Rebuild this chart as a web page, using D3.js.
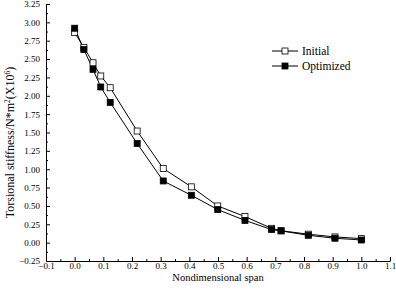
<!DOCTYPE html>
<html>
<head>
<meta charset="utf-8">
<script src="https://cdn.jsdelivr.net/npm/d3@7"></script>
<style>
  body { margin: 0; background: #fff; }
  text { font-family: "Liberation Serif", "DejaVu Serif", serif; fill: #000; }
</style>
</head>
<body>
<svg id="chart"></svg>
<script>
// span positions and stiffness values
const span = [0.0, 0.032, 0.064, 0.091, 0.124, 0.218, 0.309, 0.407, 0.499, 0.594, 0.687, 0.72, 0.815, 0.908, 1.0];
const initial = [2.86, 2.66, 2.45, 2.27, 2.11, 1.52, 1.01, 0.76, 0.50, 0.355, 0.195, 0.162, 0.115, 0.078, 0.055];
const optimized = [2.92, 2.63, 2.36, 2.12, 1.91, 1.35, 0.84, 0.645, 0.45, 0.303, 0.178, 0.16, 0.10, 0.06, 0.036];

const xTicks = [-0.1, 0.0, 0.1, 0.2, 0.3, 0.4, 0.5, 0.6, 0.7, 0.8, 0.9, 1.0, 1.1];
const yTicks = [-0.25, 0.0, 0.25, 0.5, 0.75, 1.0, 1.25, 1.5, 1.75, 2.0, 2.25, 2.5, 2.75, 3.0, 3.25];

const width = 396, height = 296;
const margin = { top: 4, right: 6, bottom: 35, left: 46 };

const svg = d3.select("#chart")
  .attr("width", width)
  .attr("height", height);

const x = d3.scaleLinear()
  .domain([-0.1, 1.1])
  .range([margin.left, width - margin.right]);

const y = d3.scaleLinear()
  .domain([-0.25, 3.25])
  .range([height - margin.bottom, margin.top]);

// minor ticks halfway between the labelled ones
const xMinor = d3.range(-0.05, 1.1, 0.1);
const yMinor = d3.range(-0.125, 3.25, 0.25);

const xAxis = svg.append("g")
  .attr("transform", `translate(0,${height - margin.bottom})`);
xAxis.append("g")
  .call(d3.axisBottom(x).tickValues(xMinor).tickSize(-2).tickFormat(""))
  .call(g => g.select(".domain").remove());
xAxis.append("g")
  .call(d3.axisBottom(x).tickValues(xTicks).tickSize(-4).tickPadding(2).tickSizeOuter(0)
    .tickFormat(d3.format(".1f")))
  .call(g => g.selectAll("text").attr("font-size", 9).attr("font-family", "Liberation Serif"));

const yAxis = svg.append("g")
  .attr("transform", `translate(${margin.left},0)`);
yAxis.append("g")
  .call(d3.axisLeft(y).tickValues(yMinor).tickSize(-2).tickFormat(""))
  .call(g => g.select(".domain").remove());
yAxis.append("g")
  .call(d3.axisLeft(y).tickValues(yTicks).tickSize(-4).tickPadding(6).tickSizeOuter(0)
    .tickFormat(d3.format(".2f")))
  .call(g => g.selectAll("text").attr("font-size", 9).attr("font-family", "Liberation Serif"));

svg.selectAll(".domain, .tick line").attr("stroke", "#000");

// axis titles
svg.append("text")
  .attr("x", (x(-0.1) + x(1.1)) / 2)
  .attr("y", 281)
  .attr("text-anchor", "middle")
  .attr("font-size", 10.5)
  .text("Nondimensional span");

const yTitle = svg.append("text")
  .attr("transform", `translate(14,${(y(-0.25) + y(3.25)) / 2 + 10}) rotate(-90)`)
  .attr("text-anchor", "middle")
  .attr("font-size", 12);
yTitle.append("tspan").text("Torsional stiffness/N*m");
yTitle.append("tspan").attr("dy", -4).attr("font-size", 7.5).text("2");
yTitle.append("tspan").attr("dy", 4).text("(X10");
yTitle.append("tspan").attr("dy", -4).attr("font-size", 7.5).text("6");
yTitle.append("tspan").attr("dy", 4).text(")");

const line = d3.line()
  .x(d => x(d[0]))
  .y(d => y(d[1]));

const series = [
  { name: "Initial", values: initial, fill: "#fff" },
  { name: "Optimized", values: optimized, fill: "#000" }
];

const sq = 6;
series.forEach(s => {
  const pts = span.map((v, i) => [v, s.values[i]]);
  svg.append("path")
    .datum(pts)
    .attr("fill", "none")
    .attr("stroke", "#000")
    .attr("stroke-width", 1)
    .attr("d", line);
});

series.forEach(s => {
  const pts = span.map((v, i) => [v, s.values[i]]);
  svg.append("g").selectAll("rect")
    .data(pts)
    .enter()
    .append("rect")
    .attr("x", d => x(d[0]) - sq / 2)
    .attr("y", d => y(d[1]) - sq / 2)
    .attr("width", sq)
    .attr("height", sq)
    .attr("fill", s.fill)
    .attr("stroke", "#000")
    .attr("stroke-width", 0.8);
});

// legend
const legend = svg.append("g").attr("transform", "translate(272,51)");
series.forEach((s, i) => {
  const row = legend.append("g").attr("transform", `translate(0,${i * 15})`);
  row.append("line")
    .attr("x1", 0).attr("x2", 26)
    .attr("stroke", "#000");
  row.append("rect")
    .attr("x", 13 - sq / 2).attr("y", -sq / 2)
    .attr("width", sq).attr("height", sq)
    .attr("fill", s.fill)
    .attr("stroke", "#000")
    .attr("stroke-width", 0.8);
  row.append("text")
    .attr("x", 30)
    .attr("y", 4)
    .attr("font-size", 11.5)
    .text(s.name);
});
</script>
</body>
</html>
